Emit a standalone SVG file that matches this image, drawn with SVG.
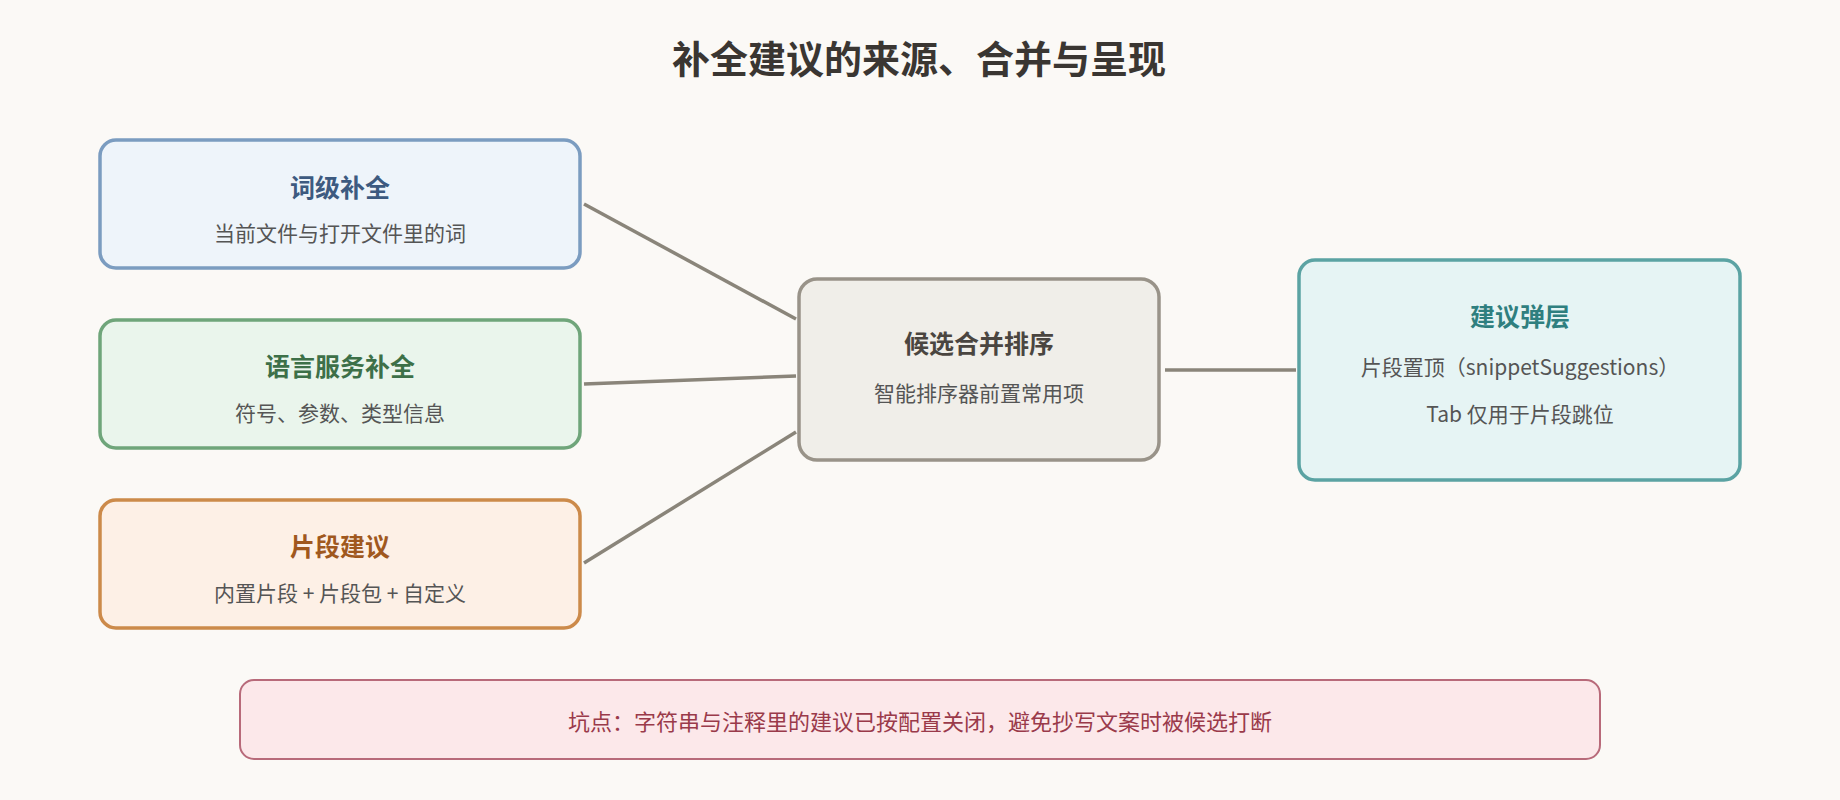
<svg xmlns="http://www.w3.org/2000/svg" width="1840" height="800" viewBox="0 0 1840 800">
<style>
text{font-family:"Noto Sans CJK SC","Noto Sans",sans-serif;text-anchor:middle}
.t{font-size:25px;font-weight:bold}
.s{font-size:21px;fill:#555}
.b{stroke-width:3.5}
.c{stroke:#8a857a;stroke-width:3.5;fill:none}
</style>
<rect width="1840" height="800" fill="#fbf9f6"/>
<text x="919" y="73" style="font-size:38px;font-weight:bold;fill:#3a3632">补全建议的来源、合并与呈现</text>
<g id="connectors">
<line class="c" x1="584" y1="204" x2="796" y2="319"/>
<line class="c" x1="584" y1="384" x2="796" y2="376"/>
<line class="c" x1="584" y1="563" x2="796" y2="432"/>
<line class="c" x1="1165" y1="370" x2="1296" y2="370"/>
</g>
<g id="word">
<rect class="b" x="100" y="140" width="480" height="128" rx="16" fill="#eef4fa" stroke="#7b9cc0"/>
<text class="t" x="340" y="197" fill="#3d5a80">词级补全</text>
<text class="s" x="340" y="241">当前文件与打开文件里的词</text>
</g>
<g id="lang">
<rect class="b" x="100" y="320" width="480" height="128" rx="16" fill="#eaf5ec" stroke="#6fa57a"/>
<text class="t" x="340" y="376" fill="#3d7048">语言服务补全</text>
<text class="s" x="340" y="421">符号、参数、类型信息</text>
</g>
<g id="snip">
<rect class="b" x="100" y="500" width="480" height="128" rx="16" fill="#fdf0e6" stroke="#cc8a4a"/>
<text class="t" x="340" y="556" fill="#a0581e">片段建议</text>
<text class="s" x="340" y="601">内置片段 + 片段包 + 自定义</text>
</g>
<g id="merge">
<rect class="b" x="799" y="279" width="360" height="181" rx="18" fill="#f0eee9" stroke="#999389"/>
<text class="t" x="979" y="353" fill="#4a4540">候选合并排序</text>
<text class="s" x="979" y="401">智能排序器前置常用项</text>
</g>
<g id="popup">
<rect class="b" x="1299" y="260" width="441" height="220" rx="16" fill="#e6f4f4" stroke="#5ba3a3"/>
<text class="t" x="1520" y="326" fill="#2f7f7f">建议弹层</text>
<text class="s" x="1520" y="375">片段置顶（snippetSuggestions）</text>
<text class="s" x="1520" y="422">Tab 仅用于片段跳位</text>
</g>
<g id="note">
<rect x="240" y="680" width="1360" height="79" rx="14" fill="#fce8ea" stroke="#b86a7a" stroke-width="2"/>
<text x="920" y="730" style="font-size:22px;fill:#9a3a4a">坑点：字符串与注释里的建议已按配置关闭，避免抄写文案时被候选打断</text>
</g>
</svg>
